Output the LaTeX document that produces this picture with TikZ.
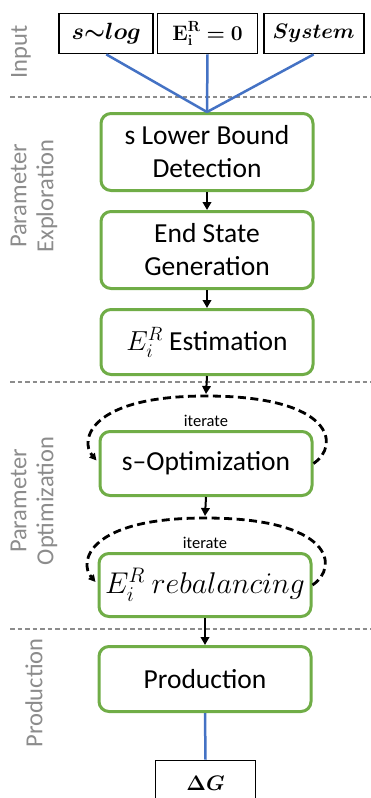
\RequirePackage{fix-cm}
\documentclass[tikz,border=0pt]{standalone}
\usepackage{amsmath,amssymb,bm}
\usepackage[no-math]{fontspec}
\setmainfont{Carlito}
\usetikzlibrary{positioning,arrows.meta}
\definecolor{boxgreen}{HTML}{70AD47}
\definecolor{linkblue}{HTML}{4472C4}
\definecolor{phasegray}{HTML}{8C8C8C}

\begin{document}
\begin{tikzpicture}[x=1pt,y=-1pt,
	stage/.style={draw=boxgreen, line width=3pt, rounded corners=10pt, fill=white, align=center,
		minimum width=212pt, font=\fontsize{27.5}{33}\selectfont},
	inbox/.style={draw, line width=1.8pt, minimum height=40pt, inner sep=0pt, font=\fontsize{21}{26}\selectfont},
	phase/.style={rotate=90, text=phasegray, align=center, font=\fontsize{24.5}{27}\selectfont},
	sepline/.style={phasegray, line width=1.3pt, dash pattern=on 4.5pt off 3pt},
	flow/.style={-{Triangle[length=8pt,width=8.5pt]}, line width=2pt},
	link/.style={draw=linkblue, line width=2.5pt},
	loopy/.style={line width=2.8pt, dash pattern=on 8pt off 4.5pt, -{Triangle[length=7pt,width=7pt]}},
	note/.style={font=\fontsize{16.5}{18}\selectfont}]
	\useasboundingbox (0,0) rectangle (371,798);
	\node[inbox, minimum width=94pt, font=\fontsize{23.5}{26}\selectfont] (sA) at (106.3,33.5) {$\bm{s{\sim}log}$};
	\node[inbox, minimum width=100pt] (sB) at (207.5,33.5) {$\bm{\mathrm{E}_{\mathrm{i}}^{\mathrm{R}}=0}$};
	\node[inbox, minimum width=100pt] (sC) at (313.6,33.5) {$\bm{System}$};
	\node[stage, minimum height=77pt] (s1) at (207,152) {s Lower Bound\\Detection};
	\node[stage, minimum height=77pt] (s2) at (207,250) {End State\\Generation};
	\node[stage, minimum height=65pt] (s3) at (207,342) {$E_i^R$ Estimation};
	\node[stage, minimum height=64pt] (s4) at (206,463.5) {s--Optimization};
	\node[stage, minimum height=63pt, font=\fontsize{30}{33}\selectfont] (s5) at (205,585) {$E_i^R\ rebalancing$};
	\node[stage, minimum height=65pt] (s6) at (205,679) {Production};
	\node[inbox, minimum width=100pt, minimum height=45pt] (dG) at (205.5,783) {$\bm{\Delta G}$};
	\node[phase] (pIn) at (21,52) {Input};
	\node[phase] (pEx) at (34,196) {Parameter\\Exploration};
	\node[phase] (pOpt) at (34,501) {Parameter\\Optimization};
	\node[phase] (pPr) at (34,693) {Production};
	\foreach \y in {97,382,629}
		\draw[sepline] (10,\y) -- (371,\y);
	\foreach \n in {sA,sB,sC}
		\draw[link] (\n.south) -- (s1.north);
	\draw[link] (s6.south) -- (dG.north);
	\coordinate (l4) at ([yshift=34pt]s4.north);
	\coordinate (l5) at ([yshift=34pt]s5.north);
	\draw[flow] (s1.south) -- (s2.north);
	\draw[flow] (s2.south) -- (s3.north);
	\draw[flow] (s3.south) -- ([yshift=2pt]l4);
	\draw[flow] (s4.south) -- ([yshift=2pt]l5);
	\draw[flow] (s5.south) -- (s6.north);
	\foreach \b/\l in {s4/l4,s5/l5} {
		\draw[loopy] (\b.east) .. controls +(27,-18) and +(128,0) .. (\l)
			.. controls +(-117,0) and +(-17,-20) .. ([xshift=-2pt,yshift=3pt]\b.west);
		\node[note, above=0pt of \b.north] {iterate};
	}
\end{tikzpicture}
\end{document}
